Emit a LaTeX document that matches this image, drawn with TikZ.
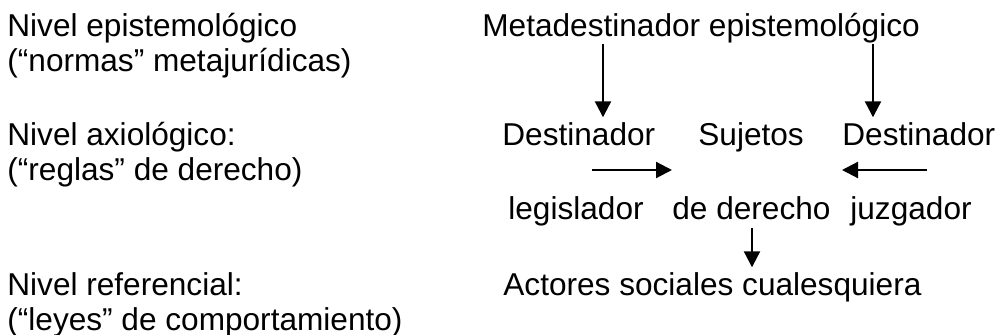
\documentclass[tikz,border=0pt]{standalone}
\usepackage{fontspec}
\setmainfont{Liberation Sans}
\usepackage{xcolor}
\usepackage{tikz}
\usetikzlibrary{arrows.meta, positioning}

\begin{document}
\begin{tikzpicture}[
            x=0.5pt, y=-0.5pt,
            lbl/.style={anchor=base west, inner sep=0pt, font=\fontsize{15.8}{17.5}\selectfont},
            lvl/.style={lbl, align=left},
            arr/.style={-{Triangle[length=8pt, width=8pt]}, line width=1.1pt}
        ]
            \useasboundingbox (0,0) rectangle (997,335);

            % Levels (base = last line)
            \node[lvl] (epi) at (7,72) {Nivel epistemológico\\(“normas” metajurídicas)};
            \node[lvl] (axi) at (7,181) {Nivel axiológico:\\(“reglas” de derecho)};
            \node[lvl] (ref) at (7,331) {Nivel referencial:\\(“leyes” de comportamiento)};

            % Actants
            \node[lbl] (meta) at (482,37) {Metadestinador epistemológico};
            \node[lbl] (dl) at (502,146) {Destinador};
            \node[lbl] (suj) at (698,146) {Sujetos};
            \node[lbl] (dr) at (842,146) {Destinador};
            \node[lbl] (leg) at (508,220) {legislador};
            \node[lbl] (der) at (672,220) {de derecho};
            \node[lbl] (juz) at (850,220) {juzgador};
            \node[lbl] (act) at (503,296) {Actores sociales cualesquiera};

            % Arrow lines
            \coordinate (cl) at (603,0);
            \coordinate (cr) at (873,0);
            \coordinate (cd) at (752,0);
            \coordinate (ml) at (592,170);
            \coordinate (mr) at (927,170);

            % Arrows
            \draw[arr, shorten >=2.7pt] (meta.south -| cl) -- (dl.north -| cl);
            \draw[arr, shorten >=2.7pt] (meta.south -| cr) -- (dr.north -| cr);
            \draw[arr] (ml) -- (ml -| der.west);
            \draw[arr] (mr) -- (mr -| dr.west);
            \draw[arr, shorten <=3.5pt, shorten >=2.7pt] (der.south -| cd) -- (act.north -| cd);

        \end{tikzpicture}
\end{document}
